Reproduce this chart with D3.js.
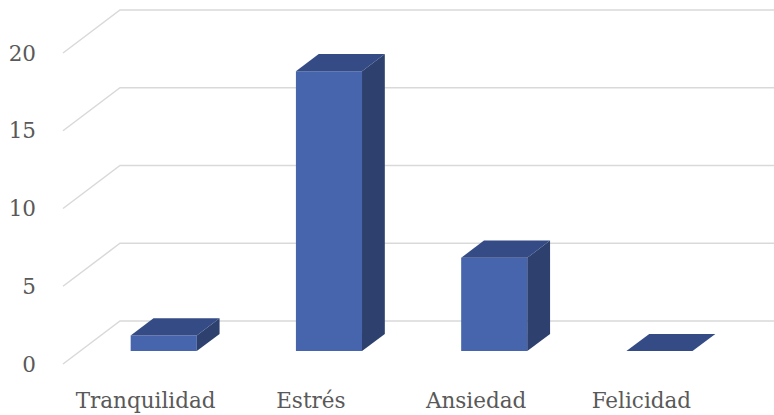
<!DOCTYPE html>
<html>
<head>
<meta charset="utf-8">
<script src="https://cdn.jsdelivr.net/npm/d3@7"></script>
<style>
  html, body { margin: 0; padding: 0; background: #fff; }
  svg { display: block; }
  text { font-family: "DejaVu Serif", serif; fill: #595959; }
</style>
</head>
<body>
<svg id="chart" width="774" height="415"></svg>
<script>
// data
var categories = ['Tranquilidad', 'Estrés', 'Ansiedad', 'Felicidad'];
var values = [1, 18, 6, 0];
var yTicks = [0, 5, 10, 15, 20];

var W = 774, H = 415;
var DEPTH = { dx: 57, dy: -43 };        // floor / wall depth vector
var BAR_Z = [0.3, 0.7];                 // bar occupies this slice of the depth
var COL = { front: '#4765AD', top: '#344B85', side: '#2D406E', grid: '#D9D9D9' };

var svg = d3.select('#chart');

var x = d3.scaleBand().domain(categories).range([64, 725]).paddingInner(0.6).paddingOuter(0.3);
var xLab = d3.scaleBand().domain(categories).range([63, 724]);
var y = d3.scaleLinear().domain([0, 20]).range([364, 53]);

// gridlines: diagonal on the side wall, then flat along the back wall
var grid = svg.append('g');
grid.selectAll('path').data(yTicks).join('path')
  .attr('d', function (v) {
    var y0 = y(v);
    return 'M' + 63 + ',' + y0 + 'L' + (63 + DEPTH.dx) + ',' + (y0 + DEPTH.dy) + 'L' + W + ',' + (y0 + DEPTH.dy);
  })
  .attr('fill', 'none').attr('stroke', COL.grid).attr('stroke-width', 1.5);

// y tick labels
svg.append('g').selectAll('text').data(yTicks).join('text')
  .attr('x', 36).attr('y', function (v) { return y(v); })
  .attr('dy', '0.35em').attr('text-anchor', 'end')
  .style('font-size', '21.5px')
  .text(function (v) { return v; });

// bars as 3D boxes
var ox = DEPTH.dx * BAR_Z[0], oy = DEPTH.dy * BAR_Z[0];
var bx = DEPTH.dx * (BAR_Z[1] - BAR_Z[0]), by = DEPTH.dy * (BAR_Z[1] - BAR_Z[0]);
var data = categories.map(function (c, i) { return { cat: c, v: values[i] }; });

var bars = svg.append('g').selectAll('g').data(data).join('g');
function pts(a) { return a.map(function (p) { return p.join(','); }).join(' '); }

bars.each(function (d) {
  var g = d3.select(this);
  var x0 = x(d.cat) + ox, x1 = x0 + x.bandwidth();
  var yb = y(0) + oy, yt = y(d.v) + oy;
  if (yb - yt > 0.5) {
    g.append('polygon').attr('points', pts([[x0, yb], [x1, yb], [x1, yt], [x0, yt]])).attr('fill', COL.front);
    g.append('polygon').attr('points', pts([[x1, yb], [x1 + bx, yb + by], [x1 + bx, yt + by], [x1, yt]])).attr('fill', COL.side);
  }
  g.append('polygon').attr('points', pts([[x0, yt], [x0 + bx, yt + by], [x1 + bx, yt + by], [x1, yt]])).attr('fill', COL.top);
});

// category labels
svg.append('g').selectAll('text').data(categories).join('text')
  .attr('x', function (c) { return xLab(c) + xLab.bandwidth() / 2; })
  .attr('y', 408).attr('text-anchor', 'middle')
  .style('font-size', '21.5px')
  .text(function (c) { return c; });
</script>
</body>
</html>
